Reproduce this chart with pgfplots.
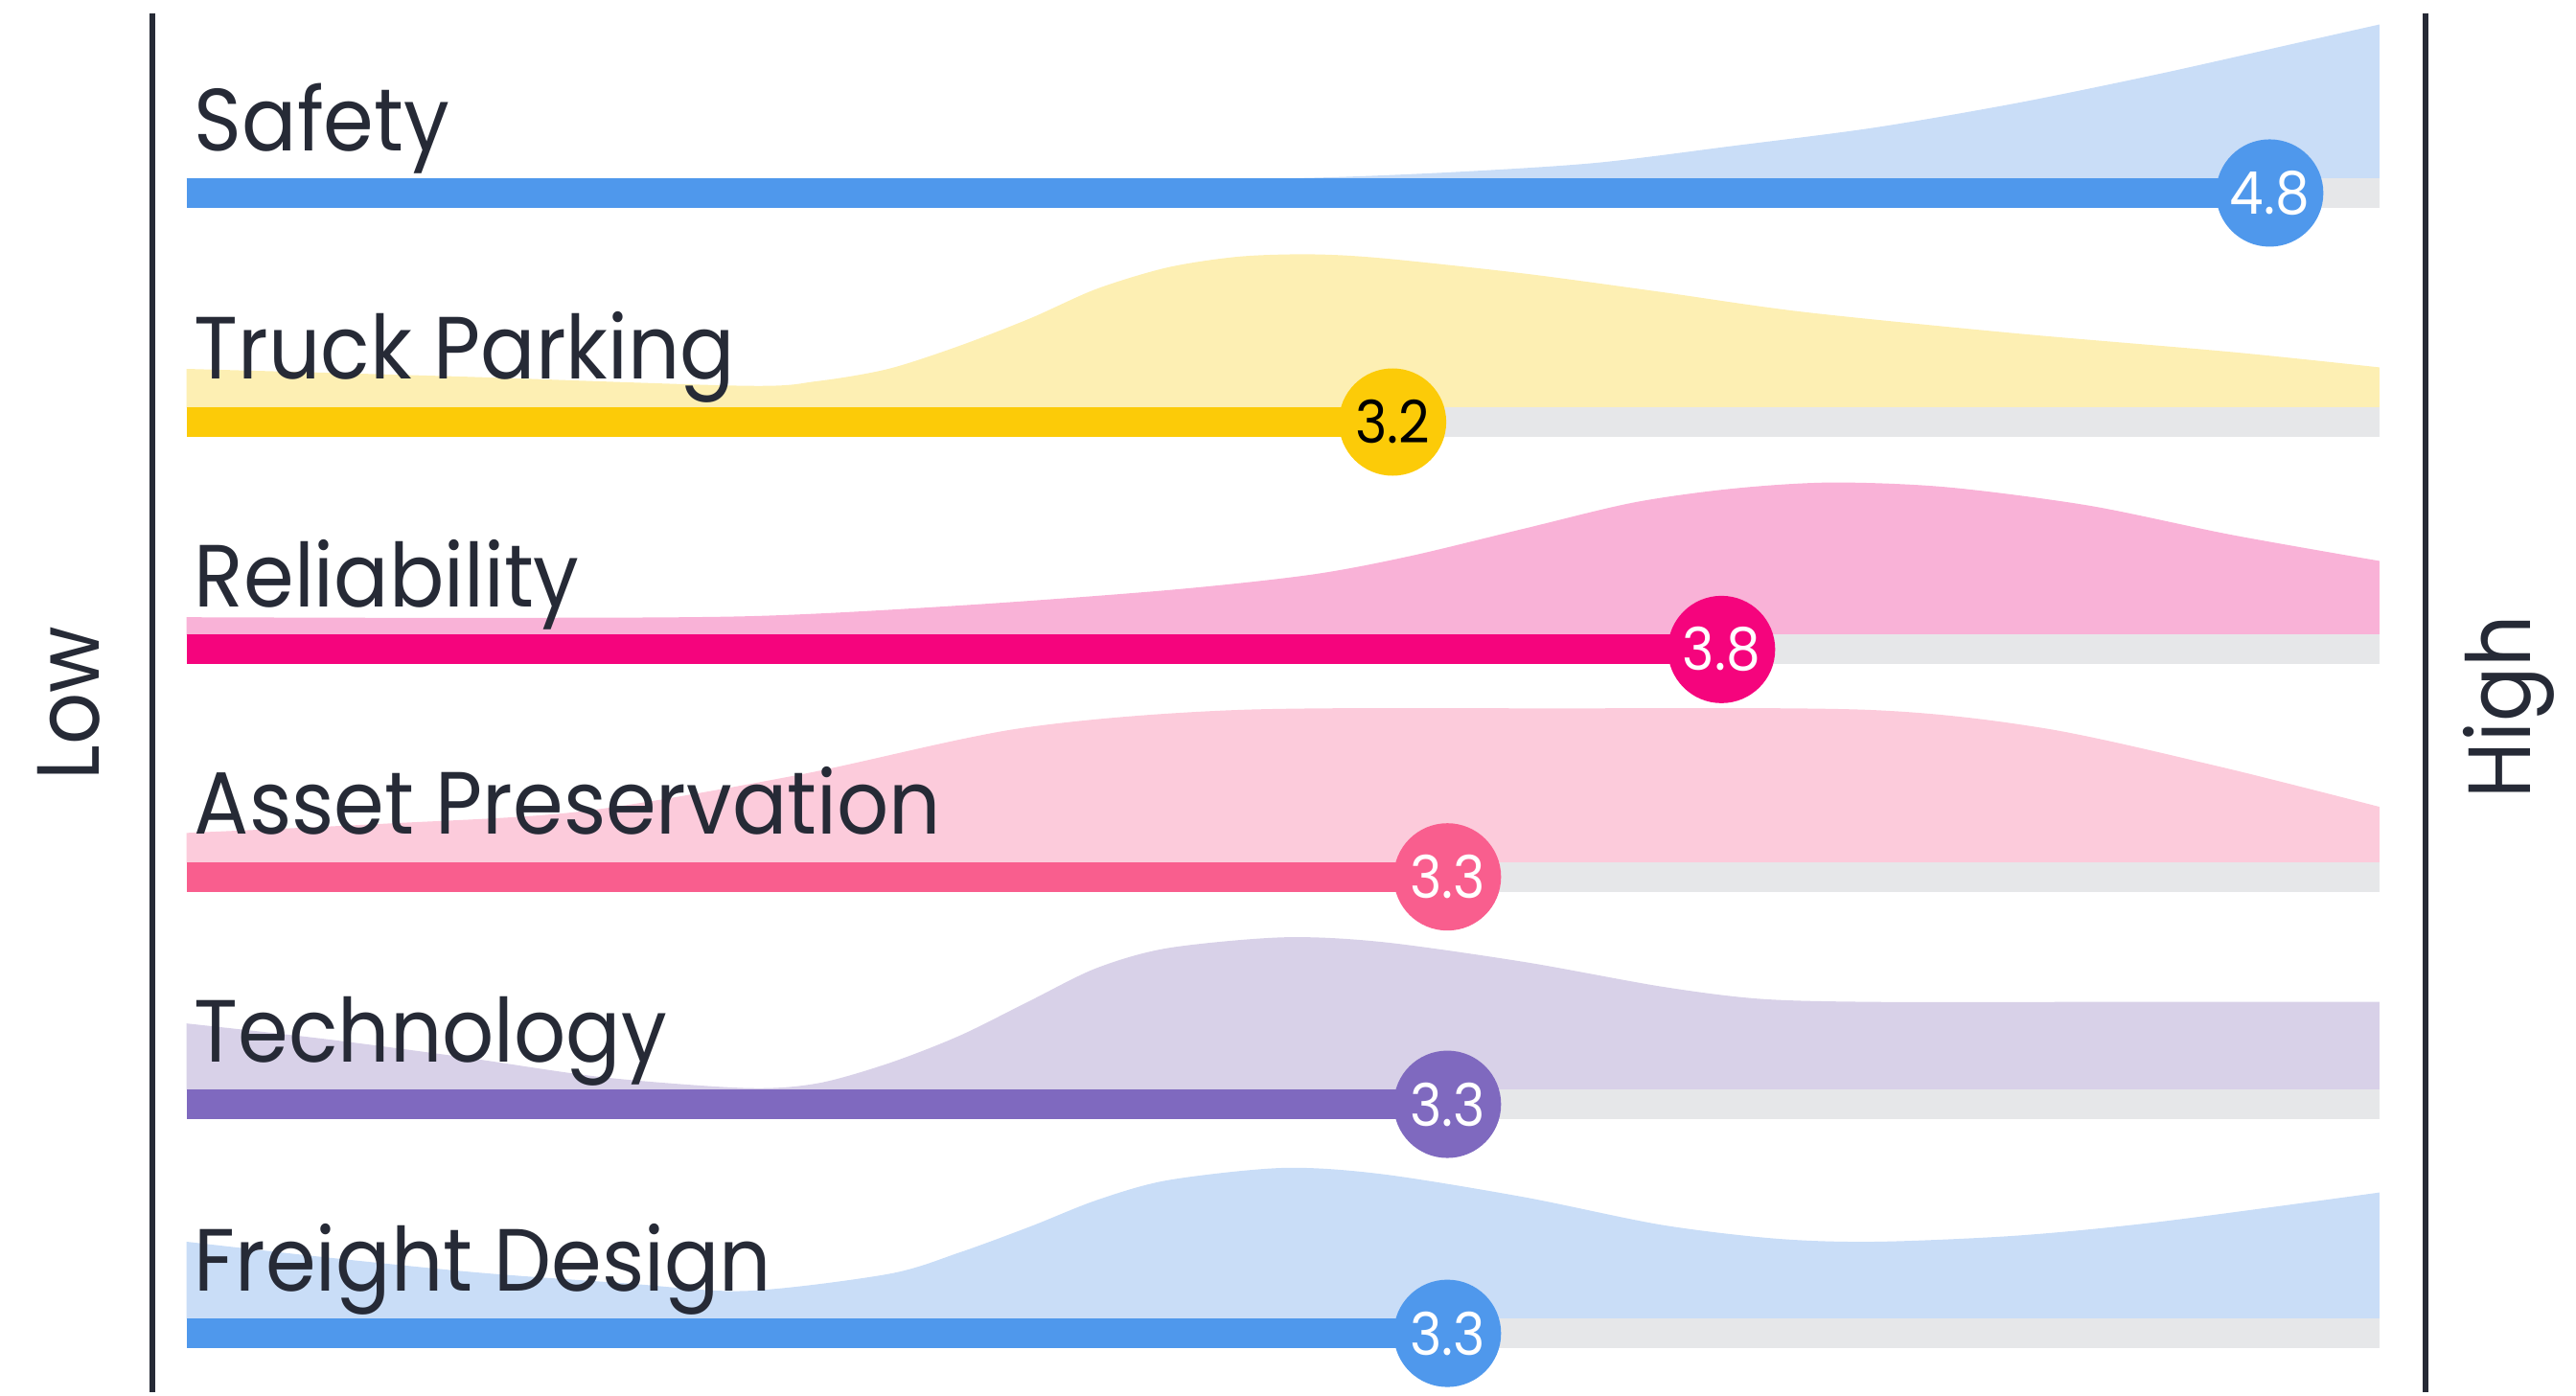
\documentclass[border=0pt]{standalone}
\usepackage{pgfplots}
\usepackage{pgfplotstable}
\pgfplotsset{compat=1.18}
\usepackage{fontspec}
\setmainfont{Poppins}[FakeStretch=0.92]
\definecolor{darktext}{HTML}{262A36}
\definecolor{track}{HTML}{E6E7E9}
\definecolor{cblue}{HTML}{4F98EC}
\definecolor{lblue}{HTML}{C9DDF7}
\definecolor{cyellow}{HTML}{FCCB08}
\definecolor{lyellow}{HTML}{FDEFB3}
\definecolor{cmag}{HTML}{F5047D}
\definecolor{lmag}{HTML}{F9B2D7}
\definecolor{cpink}{HTML}{F95E8E}
\definecolor{lpink}{HTML}{FCCBDB}
\definecolor{cpurple}{HTML}{7F69BF}
\definecolor{lpurple}{HTML}{D8D1E8}

\pgfplotstableread{
v h
1.0 0
2.8 0
3.05 0.003
3.31 0.04
3.57 0.10
3.82 0.21
4.08 0.33
4.34 0.49
4.60 0.68
4.85 0.88
5.0 1.0
}\safety
\pgfplotstableread{
v h
1.0 0.25
1.5 0.20
2.02 0.14
2.15 0.17
2.28 0.25
2.41 0.40
2.54 0.58
2.66 0.77
2.79 0.91
2.92 0.98
3.05 0.995
3.18 0.97
3.44 0.87
3.69 0.75
3.95 0.62
4.34 0.48
4.73 0.36
5.0 0.26
}\truck
\pgfplotstableread{
v h
1.0 0.114
1.5 0.11
2.02 0.12
2.41 0.19
2.79 0.29
3.05 0.39
3.23 0.51
3.44 0.69
3.64 0.86
3.82 0.95
4.0 0.99
4.21 0.96
4.47 0.84
4.73 0.65
5.0 0.48
}\reliab
\pgfplotstableread{
v h
1.0 0.19
1.36 0.25
1.72 0.33
2.12 0.57
2.52 0.87
2.92 0.99
3.5 1.0
4.07 0.99
4.39 0.87
4.71 0.62
5.0 0.36
}\asset
\pgfplotstableread{
v h
1.0 0.43
1.25 0.33
1.506 0.21
1.76 0.08
2.02 0.01
2.15 0.04
2.28 0.17
2.41 0.35
2.54 0.58
2.66 0.79
2.79 0.92
3.0 0.99
3.18 0.96
3.44 0.83
3.69 0.67
3.87 0.59
4.08 0.57
4.5 0.57
5.0 0.57
}\tech
\pgfplotstableread{
v h
1.0 0.50
1.25 0.40
1.53 0.30
1.8 0.23
2.02 0.18
2.28 0.29
2.41 0.43
2.54 0.60
2.66 0.77
2.79 0.90
3.0 0.98
3.18 0.94
3.44 0.79
3.69 0.61
3.9 0.52
4.08 0.50
4.34 0.54
4.60 0.63
5.0 0.82
}\freight

\newcommand{\lbl}{\fontsize{13.5}{14}\selectfont}
\newcommand{\vlbl}{\fontsize{9}{9}\selectfont}
\pgfplotsset{
  dot/.style={only marks, mark=*, mark size=8pt, color=#1,
    nodes near coords align={center},
    every node near coord/.style={anchor=center, font=\vlbl, text=white}},
}

\begin{document}
\begin{tikzpicture}
\begin{axis}[width=392pt, height=212.75pt, scale only axis,
  xmin=0.6597, xmax=5.3403, ymin=-851, ymax=0,
  hide axis, clip=false]
\path (axis cs:0.6597,-851) rectangle (axis cs:5.3403,0);
% densities
\addplot[fill=lblue, draw=none, smooth] table[x=v, y expr={-109+94*\thisrow{h}}] {\safety} |- (axis cs:1,-109) -- cycle;
\addplot[fill=lyellow, draw=none, smooth] table[x=v, y expr={-249+94*\thisrow{h}}] {\truck} |- (axis cs:1,-249) -- cycle;
\addplot[fill=lmag, draw=none, smooth] table[x=v, y expr={-388+94*\thisrow{h}}] {\reliab} |- (axis cs:1,-388) -- cycle;
\addplot[fill=lpink, draw=none, smooth] table[x=v, y expr={-527+94*\thisrow{h}}] {\asset} |- (axis cs:1,-527) -- cycle;
\addplot[fill=lpurple, draw=none, smooth] table[x=v, y expr={-666+94*\thisrow{h}}] {\tech} |- (axis cs:1,-666) -- cycle;
\addplot[fill=lblue, draw=none, smooth] table[x=v, y expr={-806+94*\thisrow{h}}] {\freight} |- (axis cs:1,-806) -- cycle;
% tracks
\addplot[draw=track, line width=4.5pt] coordinates {(1,-118) (5,-118)};
\addplot[draw=track, line width=4.5pt] coordinates {(1,-258) (5,-258)};
\addplot[draw=track, line width=4.5pt] coordinates {(1,-397) (5,-397)};
\addplot[draw=track, line width=4.5pt] coordinates {(1,-536) (5,-536)};
\addplot[draw=track, line width=4.5pt] coordinates {(1,-675) (5,-675)};
\addplot[draw=track, line width=4.5pt] coordinates {(1,-815) (5,-815)};
% bars
\addplot[draw=cblue, line width=4.5pt] coordinates {(1,-118) (4.8,-118)};
\addplot[draw=cyellow, line width=4.5pt] coordinates {(1,-258) (3.2,-258)};
\addplot[draw=cmag, line width=4.5pt] coordinates {(1,-397) (3.8,-397)};
\addplot[draw=cpink, line width=4.5pt] coordinates {(1,-536) (3.3,-536)};
\addplot[draw=cpurple, line width=4.5pt] coordinates {(1,-675) (3.3,-675)};
\addplot[draw=cblue, line width=4.5pt] coordinates {(1,-815) (3.3,-815)};
% markers with values
\addplot[dot=cblue, nodes near coords={4.8}] coordinates {(4.8,-118)};
\addplot[dot=cyellow, nodes near coords={3.2},
  every node near coord/.append style={text=black}] coordinates {(3.2,-258)};
\addplot[dot=cmag, nodes near coords={3.8}] coordinates {(3.8,-397)};
\addplot[dot=cpink, nodes near coords={3.3}] coordinates {(3.3,-536)};
\addplot[dot=cpurple, nodes near coords={3.3}] coordinates {(3.3,-675)};
\addplot[dot=cblue, nodes near coords={3.3}] coordinates {(3.3,-815)};
% labels
\node[anchor=base west, inner sep=0pt, font=\lbl, text=darktext] at (axis cs:1.012,-92) {Safety};
\node[anchor=base west, inner sep=0pt, font=\lbl, text=darktext] at (axis cs:1.012,-231.5) {Truck Parking};
\node[anchor=base west, inner sep=0pt, font=\lbl, text=darktext] at (axis cs:1.012,-371) {Reliability};
\node[anchor=base west, inner sep=0pt, font=\lbl, text=darktext] at (axis cs:1.012,-510) {Asset Preservation};
\node[anchor=base west, inner sep=0pt, font=\lbl, text=darktext] at (axis cs:1.012,-649) {Technology};
\node[anchor=base west, inner sep=0pt, font=\lbl, text=darktext] at (axis cs:1.012,-789) {Freight Design};
% side lines
\addplot[draw=darktext, line width=0.9pt] coordinates {(0.9373,-8) (0.9373,-851)};
\addplot[draw=darktext, line width=0.9pt] coordinates {(5.0836,-8) (5.0836,-851)};
\node[rotate=90, font=\lbl, text=darktext] at (axis cs:0.785,-430) {Low};
\node[rotate=90, font=\lbl, text=darktext] at (axis cs:5.236,-432) {High};
\end{axis}
\end{tikzpicture}
\end{document}
